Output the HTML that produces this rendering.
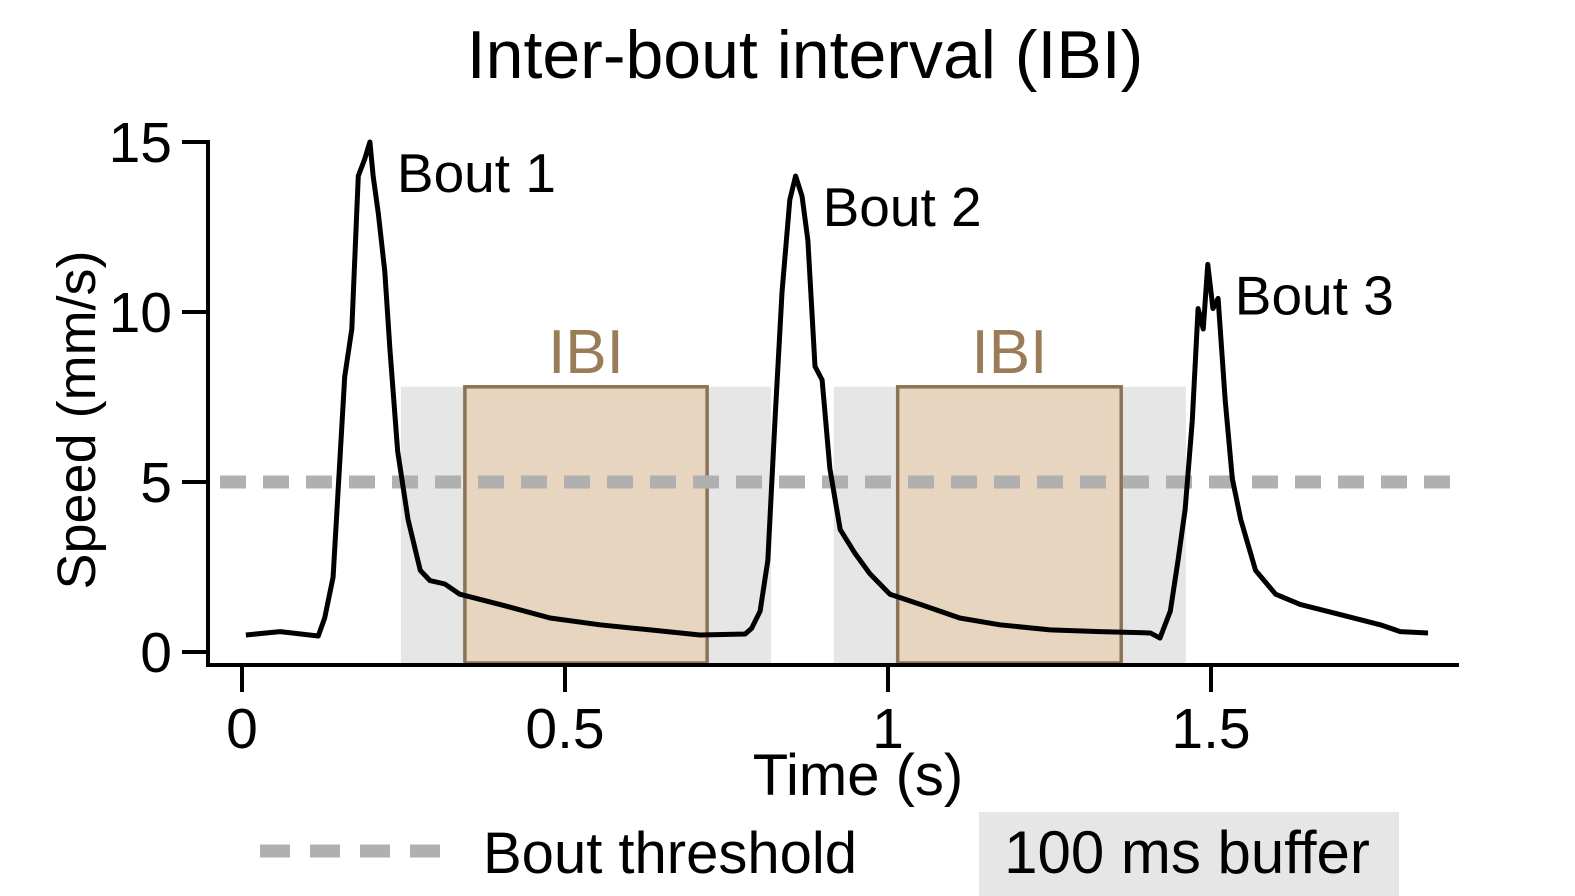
<!DOCTYPE html>
<html><head><meta charset="utf-8"><style>
body{margin:0;background:#fff}
svg{display:block;font-family:"Liberation Sans",sans-serif}
</style></head><body>
<svg id="chart" width="1575" height="896" viewBox="0 0 1575 896">
<text x="805" y="78" font-size="68" text-anchor="middle">Inter-bout interval (IBI)</text>
<g id="regions"></g>
<line x1="220" y1="482" x2="1450" y2="482" stroke="#b0b0b0" stroke-width="13" stroke-dasharray="26,17"/>
<path id="trace" fill="none" stroke="#000" stroke-width="5" stroke-linejoin="round"/>
<g id="axes" stroke="#000" stroke-width="4" fill="none">
<line x1="208" y1="140" x2="208" y2="667"/>
<line x1="206" y1="665" x2="1459" y2="665"/>
</g>
<g id="ticks"></g>
<text x="858" y="795" font-size="58" text-anchor="middle">Time (s)</text>
<text transform="translate(95,420) rotate(-90)" font-size="54" text-anchor="middle">Speed (mm/s)</text>
<g id="labels" font-size="55"></g>
<line x1="260" y1="851" x2="452" y2="851" stroke="#b0b0b0" stroke-width="13" stroke-dasharray="30,20"/>
<text x="483" y="873" font-size="58">Bout threshold</text>
<rect x="979" y="812" width="420" height="84" fill="#e6e6e6"/>
<text x="1187" y="873" font-size="60" text-anchor="middle">100 ms buffer</text>
</svg>
<script>
const times=[0.006,0.059,0.118,0.128,0.141,0.159,0.170,0.180,0.190,0.198,0.203,0.211,0.221,0.229,0.241,0.257,0.276,0.291,0.314,0.337,0.399,0.477,0.554,0.632,0.709,0.779,0.789,0.802,0.814,0.825,0.836,0.848,0.857,0.867,0.876,0.887,0.898,0.910,0.926,0.949,0.972,1.003,1.050,1.111,1.173,1.251,1.328,1.406,1.421,1.437,1.449,1.460,1.471,1.480,1.488,1.495,1.503,1.511,1.522,1.533,1.546,1.569,1.600,1.638,1.700,1.762,1.793,1.836];
const speeds=[0.5,0.6,0.47,1.0,2.2,8.1,9.5,14.0,14.5,15.0,14.0,12.9,11.2,8.9,5.9,3.9,2.4,2.1,2.0,1.7,1.4,1.0,0.8,0.65,0.5,0.53,0.7,1.2,2.7,6.8,10.6,13.3,14.0,13.4,12.1,8.4,8.0,5.4,3.6,2.9,2.3,1.7,1.4,1.0,0.8,0.65,0.6,0.56,0.41,1.2,2.7,4.2,6.8,10.1,9.5,11.4,10.1,10.4,7.4,5.1,3.9,2.4,1.7,1.4,1.1,0.8,0.6,0.56];
const bufferStarts=[0.246,0.916];
const bufferEnds=[0.819,1.461];
const ibiStarts=[0.345,1.015];
const ibiEnds=[0.720,1.361];
const regionTop=[7.8];
const xTicks=[0,0.5,1,1.5];
const xTickLabels=["0","0.5","1","1.5"];
const yTicks=[0,5,10,15];
const yTickLabels=["0","5","10","15"];
const boutTimes=[0.198,0.857,1.495];
const boutSpeeds=[15.0,14.0,11.4];
const boutNames=["Bout 1","Bout 2","Bout 3"];
const X=t=>242+t*646, Y=v=>652-v*34;
const NS="http://www.w3.org/2000/svg";
function mk(tag,attrs,parent){const e=document.createElementNS(NS,tag);for(const k in attrs)e.setAttribute(k,attrs[k]);parent.appendChild(e);return e;}
const reg=document.getElementById('regions');
bufferStarts.forEach((s,i)=>{const r=mk('rect',{x:X(s),y:Y(regionTop[0]),width:X(bufferEnds[i])-X(s),height:663-Y(regionTop[0]),fill:'#e6e6e6'},reg);

});
ibiStarts.forEach((s,i)=>{const r=mk('rect',{x:X(s),y:Y(regionTop[0]),width:X(ibiEnds[i])-X(s),height:663-Y(regionTop[0]),fill:'#e8d5bf',stroke:'#8c7355','stroke-width':3.5},reg);


const t=mk('text',{x:(X(s)+X(ibiEnds[i]))/2,y:Y(regionTop[0])-14,'font-size':62,fill:'#9a7d58','text-anchor':'middle'},reg);t.textContent='IBI';

});
document.getElementById('trace').setAttribute('d',times.map((t,i)=>(i?'L':'M')+X(t)+','+Y(speeds[i])).join(''));
const tk=document.getElementById('ticks');
xTicks.forEach((v,i)=>{const l=mk('line',{x1:X(v),y1:665,x2:X(v),y2:692,stroke:'#000','stroke-width':4},tk);


const t=mk('text',{x:X(v),y:748,'font-size':57,'text-anchor':'middle'},tk);t.textContent=xTickLabels[i];

});
yTicks.forEach((v,i)=>{const l=mk('line',{x1:182,y1:Y(v),x2:208,y2:Y(v),stroke:'#000','stroke-width':4},tk);


const t=mk('text',{x:172,y:Y(v)+20,'font-size':57,'text-anchor':'end'},tk);t.textContent=yTickLabels[i];

});
const lb=document.getElementById('labels');
boutTimes.forEach((t,i)=>{const e=mk('text',{x:X(t)+27,y:Y(boutSpeeds[i])+50},lb);e.textContent=boutNames[i];

});
</script>
</body></html>
